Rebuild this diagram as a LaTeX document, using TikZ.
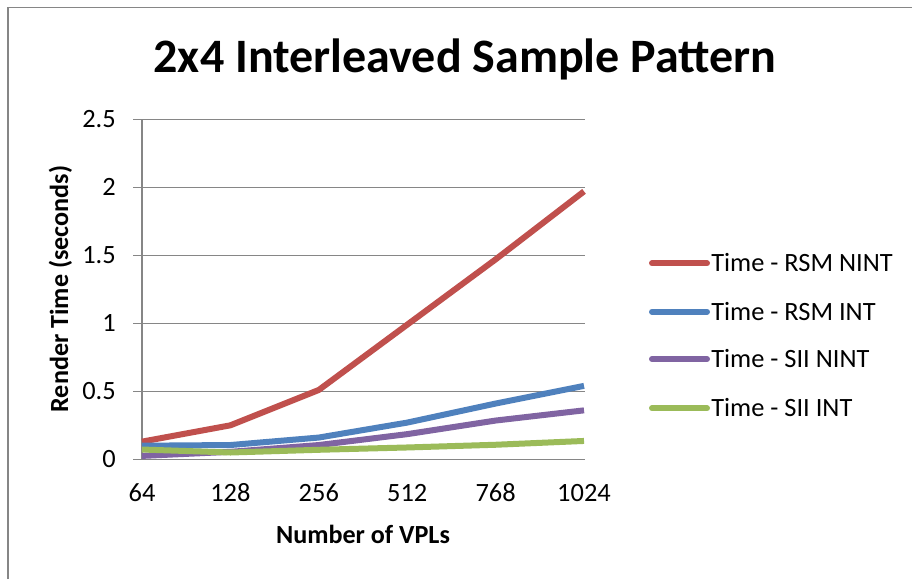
\documentclass[tikz,border=0pt]{standalone}
\usepackage{fontspec}
\setmainfont{Carlito}
\definecolor{cred}{HTML}{C0504D}
\definecolor{cblue}{HTML}{4F81BD}
\definecolor{cpurple}{HTML}{8064A2}
\definecolor{cgreen}{HTML}{9BBB59}
\definecolor{axgray}{HTML}{868686}
\begin{document}
\begin{tikzpicture}[x=0.75pt,y=-0.75pt,
  lbl/.style={font=\fontsize{19.8}{23}\selectfont, inner sep=0pt},
  axtitle/.style={font=\fontsize{19.6}{23}\selectfont\bfseries, inner sep=0pt},
  gridline/.style={draw=axgray, line width=1.1pt},
  series/.style={line width=4.5pt, line join=round},
  legline/.style={line width=4.5pt, line cap=round}]
\useasboundingbox (0,0) rectangle (912,579);
\fill[white] (0,0) rectangle (912,579);
\draw[axgray, line width=1.2pt] (8,579) -- (8,7.5) -- (912,7.5);

\node[font=\fontsize{36}{40}\selectfont\bfseries, anchor=base, inner sep=0pt] (title) at (465,72) {2x4 Interleaved Sample Pattern};

% gridlines and axes
\foreach \k in {1,...,5} \draw[gridline] (133,{459.3-68*\k}) -- (585,{459.3-68*\k});
\draw[gridline] (133,459.3) -- (585,459.3);
\draw[gridline] (142,119.3) -- (142,459.3);

% y tick labels
\foreach \v/\k in {0/0,0.5/1,1/2,1.5/3,2/4,2.5/5}
  \node[lbl, anchor=base east] (yt\k) at (116,{459.3-68*\k+8.2}) {\v};
% x tick labels
\foreach \c/\i in {64/0,128/1,256/2,512/3,768/4,1024/5}
  \node[lbl, anchor=base] (xt\i) at ({142+88.4*\i},501.5) {\c};

\node[axtitle, anchor=base] (xtitle) at (363,543) {Number of VPLs};
\node[axtitle, anchor=base, rotate=90] (ytitle) at (68,289) {Render Time (seconds)};

% data series
\begin{scope}[shift={(142,459.3)}, x=66.3pt, y=102pt]
  \draw[series, cred] plot coordinates {(0,0.13) (1,0.25) (2,0.51) (3,0.99) (4,1.47) (5,1.97)};
  \draw[series, cblue] plot coordinates {(0,0.10) (1,0.105) (2,0.16) (3,0.27) (4,0.41) (5,0.54)};
  \draw[series, cpurple] plot coordinates {(0,0.025) (1,0.055) (2,0.105) (3,0.185) (4,0.285) (5,0.36)};
  \draw[series, cgreen] plot coordinates {(0,0.072) (1,0.05) (2,0.07) (3,0.087) (4,0.107) (5,0.135)};
\end{scope}

% legend
\foreach \col/\txt/\yy/\n in {cred/Time - RSM NINT/263.3/1, cblue/Time - RSM INT/311.7/2, cpurple/Time - SII NINT/359/3, cgreen/Time - SII INT/408.3/4}{
  \coordinate (la\n) at (652,\yy);
  \coordinate (lb\n) at (707,\yy);
  \draw[legline, \col] (la\n) -- (lb\n);
  \node[lbl, anchor=base west] (leg\n) at (711,\yy+8.6) {\txt};
}
\end{tikzpicture}
\end{document}
